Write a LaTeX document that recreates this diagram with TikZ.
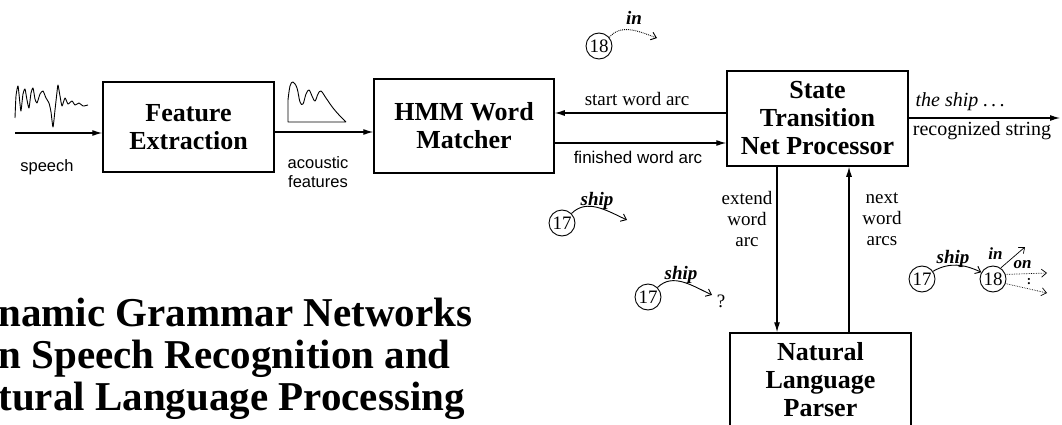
\documentclass[tikz,border=0pt]{standalone}
\usepackage{fontspec}
\setmainfont{Liberation Serif}
\setsansfont{Liberation Sans}
\usetikzlibrary{arrows.meta,positioning}
\tikzset{
  blk/.style={draw,line width=1.5pt,align=center,inner sep=0pt,font=\fontsize{26}{28}\selectfont\bfseries},
  stn/.style={draw,circle,line width=0.9pt,minimum size=26pt,inner sep=0pt,font=\fontsize{19}{19}\selectfont},
  lbl/.style={font=\fontsize{19}{21}\selectfont,align=center,inner sep=0pt},
  slbl/.style={font=\fontsize{16.5}{19}\selectfont\sffamily,align=center,inner sep=0pt},
  wd/.style={font=\fontsize{19}{19}\selectfont\bfseries\itshape,inner sep=0pt,anchor=base},
  swd/.style={font=\fontsize{17}{17}\selectfont\bfseries\itshape,inner sep=0pt},
  ttl/.style={font=\fontsize{41}{42}\selectfont\bfseries,inner sep=0pt,anchor=base west},
  hd/.style={line width=0.9pt,-{Straight Barb[length=5pt,width=8pt]}}
}
\begin{document}
\begin{tikzpicture}[x=1pt,y=-1pt,line width=1.1pt,>={Latex[length=10pt,width=6pt]}]
\useasboundingbox (0,0) rectangle (1062,425);
\node[blk,minimum width=171pt,minimum height=90pt] (fe) at (188.5,127) {Feature\\Extraction};
\node[blk,minimum width=180pt,minimum height=94pt] (hm) at (464,126) {HMM Word\\Matcher};
\node[blk,minimum width=181pt,minimum height=95pt] (st) at (817.5,118.5) {State\\Transition\\Net Processor};
\node[blk,minimum width=181pt,minimum height=94pt] (nl) at (820.5,380) {Natural\\Language\\Parser};
% signals
\draw[line width=0.9pt,line join=round] plot[smooth,tension=0.35] coordinates {(15,118) (16,96) (18,86) (20,104) (21,111) (23,94) (25,89) (27,100) (29,108) (31,93) (33,88) (35,99) (37,103) (40,94) (43,91) (46,98) (49,103) (51,112) (53,127) (55,110) (57,92) (58,85) (60,96) (62,106) (65,98) (68,104) (72,101) (75,105) (79,103) (83,106) (88,105)};
\draw[line width=0.9pt,line join=round] (346,122) -- (288,122) -- plot[smooth,tension=0.6] coordinates {(288,100) (290,86) (293,82) (297,88) (300,102) (303,104) (306,94) (309,90) (312,96) (315,101) (318,94) (321,91) (326,98) (333,108) (340,116) (346,122)};
\coordinate (sp) at (15,133);
\draw[->] (sp) -- (sp -| fe.west);
\node[slbl] (spl) at (47,167) {speech};
\draw[->] (fe.east |- 0,132) -- (hm.west |- 0,132);
\node[slbl] (acl) at (318,172) {acoustic\\features};
\draw[->] (st.west |- 0,113) -- (hm.east |- 0,113);
\node[lbl] (swa) at (637,99) {start word arc};
\draw[->] (hm.east |- 0,143) -- (st.west |- 0,143);
\node[slbl,font=\fontsize{17}{19}\selectfont\sffamily] (fwa) at (638,157) {finished word arc};
\coordinate (rse) at (1060,118);
\draw[->] (st.east |- rse) -- (rse);
\node[lbl,font=\fontsize{20}{22}\selectfont\itshape,anchor=west] (ts) at (915,102) {the ship\ .\,.\,.};
\node[lbl,font=\fontsize{20}{22}\selectfont] (rs) at (982,131) {recognized string};
\draw[->] (st.south -| 777,0) -- (nl.north -| 777,0);
\node[lbl] (ewa) at (747,219) {extend\\word\\arc};
\draw[->] (nl.north -| 849,0) -- (st.south -| 849,0);
\node[lbl] (nwa) at (882,219) {next\\word\\arcs};
% little nets
\node[stn] (a18) at (599,46) {18};
\coordinate (a18e) at (657,38);
\draw[hd,densely dotted] (a18.40) to[out=50,in=160] (a18e);
\node[wd] (ain) at (634,25) {in};
\node[stn] (b17) at (562,223) {17};
\coordinate (b17e) at (627,220);
\draw[hd] (b17.45) to[out=45,in=155] (b17e);
\node[wd] (bsh) at (597,205) {ship};
\node[stn] (c17) at (648,297) {17};
\coordinate (c17e) at (712,295);
\draw[hd] (c17.45) to[out=45,in=155] (c17e);
\node[wd] (csh) at (681,279) {ship};
\node[lbl] (cq) at (721,301) {?};
\node[stn] (d17) at (922,279) {17};
\node[stn] (d18) at (993,279) {18};
\draw[hd] (d17.35) to[out=30,in=155] (d18.150);
\node[wd] (dsh) at (953,263) {ship};
\coordinate (d18a) at (1025,247);
\draw[hd,line width=0.7pt] (d18.55) -- (d18a);
\node[swd,anchor=base east] (din) at (1003,259) {in};
\coordinate (d18b) at (1047,273);
\draw[hd,line width=0.7pt,densely dotted] (d18.20) -- (d18b);
\node[swd,anchor=base west] (don) at (1013,268) {on};
\node[lbl,font=\fontsize{13}{13}\selectfont\bfseries] (ddt) at (1029,282) {:};
\coordinate (d18c) at (1047,293);
\draw[hd,line width=0.7pt,densely dotted] (d18.-20) -- (d18c);
% title
\node[ttl] (t1) at (-2,326) {namic Grammar Networks};
\node[ttl] (t2) at (-2,368) {n Speech Recognition and};
\node[ttl] (t3) at (-2,410) {tural Language Processing};
\end{tikzpicture}
\end{document}
